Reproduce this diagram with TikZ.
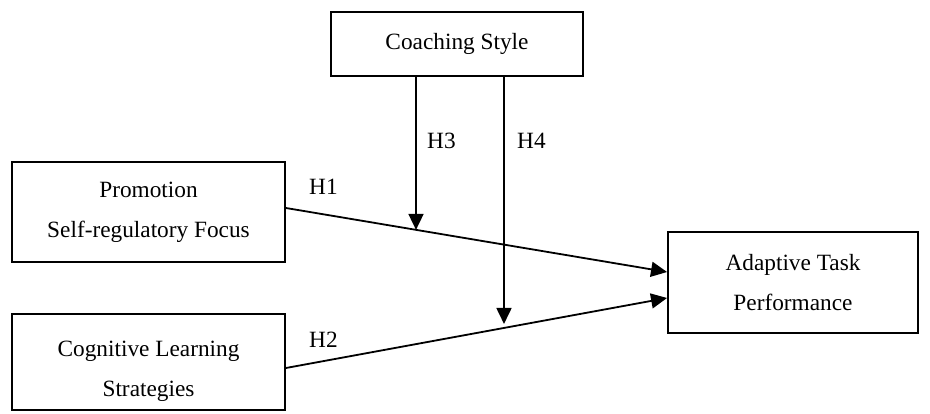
\documentclass[tikz,border=0pt]{standalone}
\usepackage{fontspec}
\setmainfont{Liberation Serif}
\usetikzlibrary{arrows.meta,calc}
\begin{document}
\begin{tikzpicture}[x=1pt,y=-1pt,
  box/.style={draw, line width=1.9pt, inner sep=0pt, align=center, font=\fontsize{23.3}{40}\selectfont},
  txt/.style={inner sep=0pt, align=center, font=\fontsize{23.3}{40}\selectfont},
  lbl/.style={inner sep=0pt, anchor=west, font=\fontsize{23.3}{28}\selectfont},
  conn/.style={line width=1.8pt, -{Triangle[length=16pt,width=15pt]}}]
\useasboundingbox (0,0) rectangle (930,414);
\node[box, minimum width=252pt, minimum height=64pt] (cs) at (457,44) {Coaching Style};
\node[box, minimum width=273pt, minimum height=100pt] (pro) at (148.5,212) {Promotion\\Self-regulatory Focus};
\node[box, minimum width=273pt, minimum height=96pt] (cls) at (148.5,362) {};
\node[txt] (clstext) at (148.5,371) {Cognitive Learning\\Strategies};
\node[box, minimum width=250pt, minimum height=101pt] (atp) at (793,282.5) {Adaptive Task\\Performance};
% main paths
\coordinate (p1s) at ([yshift=4pt]pro.east);
\coordinate (p1e) at ([yshift=10.5pt]atp.west);
\coordinate (p2s) at ([yshift=-6pt]cls.east);
\coordinate (p2e) at ([yshift=-15.5pt]atp.west);
\draw[conn] (p1s) -- (p1e);
\draw[conn] (p2s) -- (p2e);
% moderator paths
\coordinate (m1) at ($(p1s)!0.342!(p1e)$);
\coordinate (m2) at ($(p2s)!0.572!(p2e)+(0,-4)$);
\coordinate (c1) at ([xshift=-41pt]cs.south);
\coordinate (c2) at ([xshift=47pt]cs.south);
\draw[conn] (c1) -- (c1 |- m1);
\draw[conn] (c2) -- (c2 |- m2);
% labels
\node[lbl] (h1) at (309,187) {H1};
\node[lbl] (h2) at (309,340) {H2};
\node[lbl] (h3) at (427,141) {H3};
\node[lbl] (h4) at (517,141) {H4};
\end{tikzpicture}
\end{document}
